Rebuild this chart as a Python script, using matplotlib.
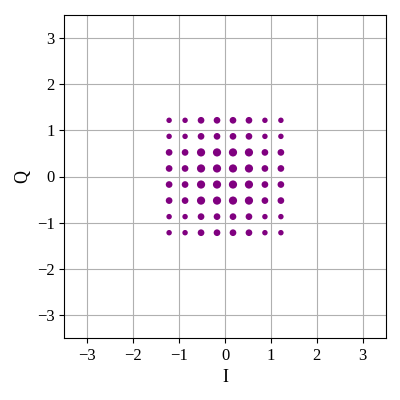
import numpy as np
import matplotlib
matplotlib.use("Agg")
import matplotlib.pyplot as plt

plt.rcParams['font.family'] = ['Liberation Serif', 'DejaVu Serif']

# amplitude levels of the 8x8 constellation (I and Q)
levels = [-1.218, -0.870, -0.522, -0.174, 0.174, 0.522, 0.870, 1.218]
# marginal probability of each level (shaped constellation)
level_prob = [0.10, 0.10, 0.15, 0.15, 0.15, 0.15, 0.10, 0.10]

ticks = [-3, -2, -1, 0, 1, 2, 3]

I, Q = np.meshgrid(levels, levels)
pI, pQ = np.meshgrid(level_prob, level_prob)
prob = pI * pQ

fig = plt.figure(figsize=(4, 4), dpi=100)
ax = fig.add_axes([0.161, 0.155, 0.803, 0.8075])
ax.scatter(I.ravel(), Q.ravel(), s=prob.ravel() * 1550, color='purple',
           linewidths=0, zorder=3)
ax.set_xlim(-3.5, 3.5)
ax.set_ylim(-3.5, 3.5)
ax.set_xticks(ticks)
ax.set_yticks(ticks)
ax.tick_params(labelsize=12)
ax.grid(True, color='#b0b0b0', linewidth=0.8)
ax.set_axisbelow(True)
ax.set_xlabel('I', fontsize=13)
ax.set_ylabel('Q', fontsize=13)

fig.savefig('out.png', dpi=100)
